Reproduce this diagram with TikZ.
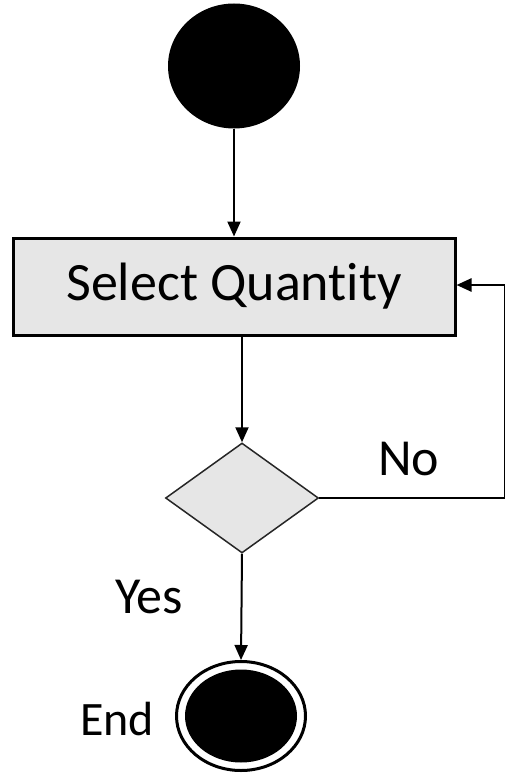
\documentclass[tikz,border=0pt]{standalone}
\usepackage{fontspec}
\setmainfont{Carlito}[Ligatures={NoCommon}]
\usetikzlibrary{shapes.geometric,arrows.meta}
\definecolor{boxgray}{RGB}{230,230,230}
\tikzset{
  arr/.style={line width=2pt,-{Triangle[width=13pt,length=15pt]}},
  lbl/.style={inner sep=0pt,anchor=base west,font=\fontsize{52}{60}\selectfont},
}
\begin{document}
\begin{tikzpicture}[x=1pt,y=-1pt]
\useasboundingbox (0,0) rectangle (505,773);
\node[ellipse,fill=black,minimum width=132pt,minimum height=125pt,inner sep=0pt] (start) at (234,66) {};
\node[rectangle,draw=black,line width=3pt,fill=boxgray,minimum width=442pt,minimum height=97pt,inner sep=0pt,font=\fontsize{54}{60}\selectfont] (box) at (234,286.5) {Select Quantity};
\node[diamond,draw=black!85,line width=1.5pt,fill=boxgray,minimum width=153pt,minimum height=110pt,inner sep=0pt,aspect=1.39] (dec) at (242,498) {};
\node[ellipse,draw=black,line width=3pt,minimum width=129pt,minimum height=109pt,inner sep=0pt] (endo) at (241,716) {};
\node[ellipse,fill=black,minimum width=112pt,minimum height=93pt,inner sep=0pt] (endi) at (241,716) {};
\node[lbl] (no) at (378,475) {No};
\node[lbl] (yes) at (115,613) {Yes};
\node[lbl,font=\fontsize{48}{56}\selectfont] (endl) at (80,735) {End};
\coordinate (c1) at (505,498);
\coordinate (c2) at (505,285);
\draw[arr] (start.south) -- (box.north);
\draw[arr] (box.south -| dec.north) -- (dec.north);
\draw[arr] (dec.south) -- (endo.north);
\draw[line width=2.5pt] (dec.east) -- (c1);
\draw[line width=1.5pt] (c1) -- (c2);
\draw[line width=2.5pt,-{Triangle[width=13pt,length=15pt]}] (c2) -- (box.east |- c2);
\end{tikzpicture}
\end{document}
